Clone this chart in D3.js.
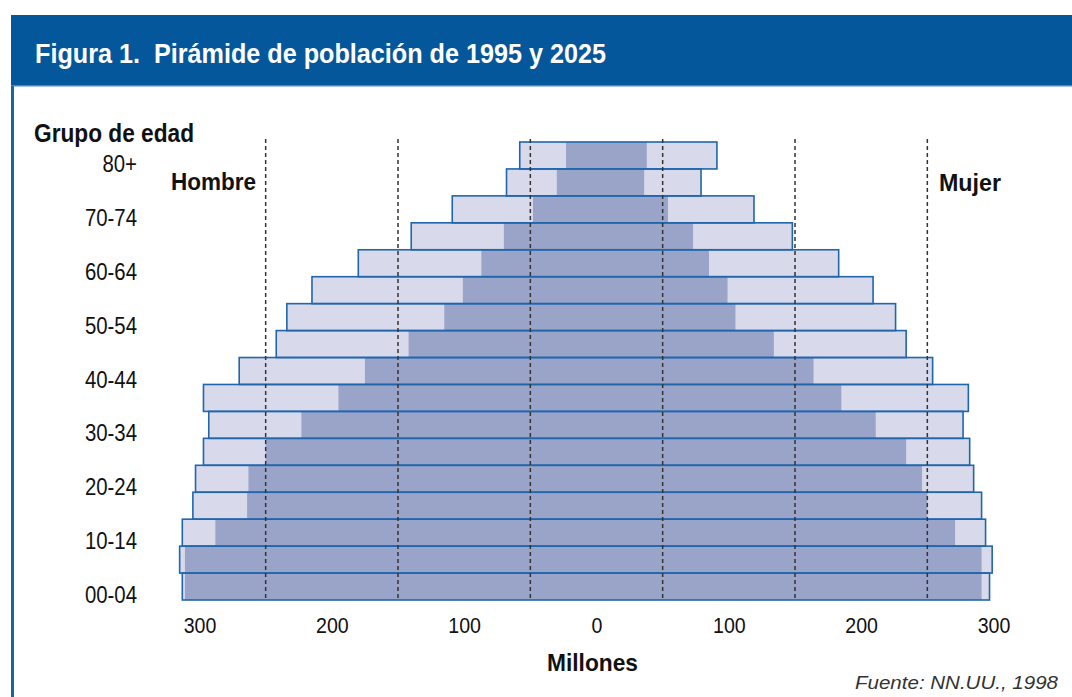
<!DOCTYPE html>
<html>
<head>
<meta charset="utf-8">
<script src="https://cdn.jsdelivr.net/npm/d3@7"></script>
<style>
  body { margin: 0; background: #fff; }
  svg { display: block; }
  text { font-family: 'Liberation Sans', Arial, sans-serif; fill: #111; }
</style>
</head>
<body>
<svg></svg>
<script>
// age groups, bottom to top
var ages = ["00-04", "05-09", "10-14", "15-19", "20-24", "25-29", "30-34", "35-39",
  "40-44", "45-49", "50-54", "55-59", "60-64", "65-69", "70-74", "75-79", "80+"]

// millions
var male1995 = [311, 311, 288, 264, 263, 250, 223, 195, 175, 142, 115, 101, 87, 70, 48, 30, 23]
var male2025 = [313, 315, 313, 305, 303, 297, 293, 297, 270, 242, 234, 215, 180, 140, 109, 68, 58]
var female1995 = [291, 291, 271, 250, 246, 234, 211, 185, 164, 134, 105, 99, 85, 73, 54, 36, 38]
var female2025 = [297, 299, 294, 291, 285, 282, 277, 281, 254, 234, 226, 209, 183, 148, 119, 79, 91]

var ticks = [-300, -200, -100, 0, 100, 200, 300]
var gridValues = [-250, -150, -50, 50, 150, 250]

var width = 1072
var height = 697

var svg = d3.select("svg")
  .attr("width", width)
  .attr("height", height)

// the original uses a condensed face; squeeze text horizontally
function squeeze(sel, f) {
  sel.each(function () {
    var w = this.getComputedTextLength()
    d3.select(this).attr("textLength", w * f).attr("lengthAdjust", "spacingAndGlyphs")
  })
}

// frame: title bar + left border
svg.append("rect")
  .attr("x", 11).attr("y", 15)
  .attr("width", width - 11).attr("height", 71)
  .attr("fill", "#05579b")
svg.append("rect")
  .attr("x", 11).attr("y", 85)
  .attr("width", width - 11).attr("height", 1.5)
  .attr("fill", "#4a86c5")
svg.append("rect")
  .attr("x", 11).attr("y", 86)
  .attr("width", 3).attr("height", height - 86)
  .attr("fill", "#1a61a5")

svg.append("text")
  .attr("x", 35).attr("y", 63)
  .style("font-size", "28px").style("font-weight", "bold")
  .style("fill", "#fff")
  .attr("xml:space", "preserve")
  .text("Figura 1.  Pirámide de población de 1995 y 2025")
  .attr("textLength", 571).attr("lengthAdjust", "spacingAndGlyphs")

var x = d3.scaleLinear()
  .domain([-300, 300])
  .range([199.5, 993.5])

var y = d3.scaleBand()
  .domain(ages.slice().reverse())
  .range([142, 600])
  .padding(0)

var rows = ages.map(function (a, i) {
  return { age: a, m95: male1995[i], m25: male2025[i], f95: female1995[i], f25: female2025[i] }
})

var g = svg.append("g")

// 2025 (light, behind)
g.selectAll(".outer")
  .data(rows)
  .enter().append("rect")
  .attr("x", function (d) { return x(-d.m25) })
  .attr("y", function (d) { return y(d.age) })
  .attr("width", function (d) { return x(d.f25) - x(-d.m25) })
  .attr("height", y.bandwidth())
  .attr("fill", "#d8daeb")

// 1995 (dark, front)
g.selectAll(".inner")
  .data(rows)
  .enter().append("rect")
  .attr("x", function (d) { return x(-d.m95) })
  .attr("y", function (d) { return y(d.age) })
  .attr("width", function (d) { return x(d.f95) - x(-d.m95) })
  .attr("height", y.bandwidth())
  .attr("fill", "#9aa4c9")

// outlines of the outer bars
g.selectAll(".outline")
  .data(rows)
  .enter().append("rect")
  .attr("x", function (d) { return x(-d.m25) })
  .attr("y", function (d) { return y(d.age) })
  .attr("width", function (d) { return x(d.f25) - x(-d.m25) })
  .attr("height", y.bandwidth())
  .attr("fill", "none")
  .attr("stroke", "#1f66ad")
  .attr("stroke-width", 1.6)

// dashed guide lines
svg.selectAll(".grid")
  .data(gridValues)
  .enter().append("line")
  .attr("x1", function (d) { return x(d) })
  .attr("x2", function (d) { return x(d) })
  .attr("y1", 139)
  .attr("y2", 601)
  .attr("stroke", "#333")
  .attr("stroke-width", 1.5)
  .attr("stroke-dasharray", "4,3")

// x axis
var xAxis = d3.axisBottom(x)
  .tickValues(ticks)
  .tickSize(0)
  .tickFormat(function (d) { return Math.abs(d) })

var ax = svg.append("g")
  .attr("transform", "translate(0,612)")
  .call(xAxis)
ax.select(".domain").remove()
ax.selectAll("text")
  .attr("dy", 0)
  .attr("y", 21)
  .style("font-size", "22px")
  .style("font-family", "'Liberation Sans', Arial, sans-serif")
  .style("fill", "#111")
  .call(squeeze, 0.89)

// age labels (every other group)
var yAxis = d3.axisLeft(y)
  .tickValues(ages.filter(function (a, i) { return i % 2 == 0 }))
  .tickSize(0)
  .tickPadding(0)

var ay = svg.append("g")
  .attr("transform", "translate(137,0)")
  .call(yAxis)
ay.select(".domain").remove()
ay.selectAll("text")
  .attr("dy", 0)
  .attr("y", 16.5)
  .attr("x", 0)
  .style("font-size", "23px")
  .style("font-family", "'Liberation Sans', Arial, sans-serif")
  .style("fill", "#111")
  .call(squeeze, 0.885)

svg.append("text")
  .attr("x", 34).attr("y", 141.5)
  .style("font-size", "25px").style("font-weight", "bold")
  .text("Grupo de edad")
  .attr("textLength", 160).attr("lengthAdjust", "spacingAndGlyphs")

svg.append("text")
  .attr("x", 171).attr("y", 190)
  .style("font-size", "24px").style("font-weight", "bold")
  .text("Hombre")
  .attr("textLength", 85).attr("lengthAdjust", "spacingAndGlyphs")

svg.append("text")
  .attr("x", 939).attr("y", 190.5)
  .style("font-size", "24px").style("font-weight", "bold")
  .text("Mujer")
  .attr("textLength", 62).attr("lengthAdjust", "spacingAndGlyphs")

svg.append("text")
  .attr("x", 547).attr("y", 671)
  .style("font-size", "24px").style("font-weight", "bold")
  .text("Millones")
  .attr("textLength", 91).attr("lengthAdjust", "spacingAndGlyphs")

svg.append("text")
  .attr("x", 1058).attr("y", 689)
  .attr("text-anchor", "end")
  .style("font-size", "18px").style("font-style", "italic")
  .style("fill", "#333")
  .text("Fuente: NN.UU., 1998")
  .attr("textLength", 203).attr("lengthAdjust", "spacingAndGlyphs")
</script>
</body>
</html>
